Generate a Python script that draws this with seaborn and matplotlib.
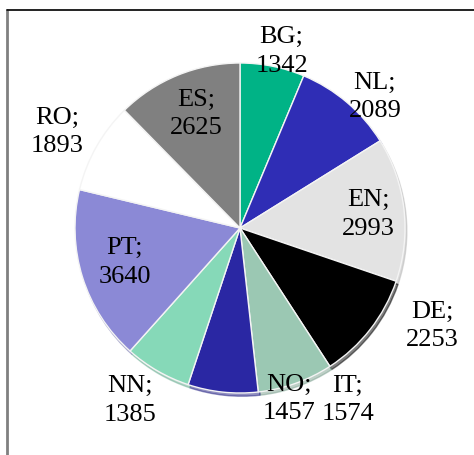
import numpy as np
import matplotlib
matplotlib.use("Agg")
import matplotlib.pyplot as plt
from matplotlib.lines import Line2D
import seaborn as sns

# slice data, clockwise from 12 o'clock
languages = ["BG", "NL", "EN", "DE", "IT", "NO", "NN", "PT", "RO", "ES"]
counts = [1342, 2089, 2993, 2253, 1574, 1457, 1385, 3640, 1893, 2625]
colors = ["#00b386", "#2f2db5", "#e3e3e3", "#000000", "#9bc8b3",
          "#2a27a3", "#86d9b8", "#8b89d6", "#ffffff", "#808080"]

# label placement: distance from centre (in radii) and angle shift (deg)
label_dist = [1.10, 1.14, 0.78, 1.31, 1.23, 1.08, 1.24, 0.73, 1.25, 0.74]
label_shift = [-1.9, -5.4, -0.5, 10.9, 12.4, 22.1, -2.4, -0.7, 1.7, -1.1]

sns.set_theme(style="white")
plt.rcParams["font.family"] = ["Liberation Serif", "DejaVu Serif"]

W, H = 474, 455
fig = plt.figure(figsize=(W / 100, H / 100), dpi=100)
ax = fig.add_axes([0, 0, 1, 1])

cx, cy, rad = 240, 455 - 228, 165
wedges, _ = ax.pie(counts, colors=colors, startangle=90, counterclock=False,
                   radius=1.0, center=(0, 0),
                   wedgeprops=dict(edgecolor="#f4f4f4", linewidth=1.0),
                   shadow=dict(ox=0.008, oy=-0.014, shade=0.2))

for w, lang, n, d, s in zip(wedges, languages, counts, label_dist, label_shift):
    mid = np.deg2rad((w.theta1 + w.theta2) / 2 + s)
    ax.text(d * np.cos(mid), d * np.sin(mid), f"{lang};\n{n}",
            ha="center", va="center", fontsize=19, color="black",
            linespacing=1.38)

ax.set_xlim(-cx / rad, (W - cx) / rad)
ax.set_ylim(-cy / rad, (H - cy) / rad)
ax.set_aspect("auto")
ax.axis("off")

# frame lines around the chart area
fig.add_artist(Line2D([7 / W, 7 / W], [0, 1 - 10 / H], color="#808080",
                      linewidth=2.0, transform=fig.transFigure))
fig.add_artist(Line2D([7 / W, 1], [1 - 10 / H, 1 - 10 / H], color="#111111",
                      linewidth=1.3, transform=fig.transFigure))

fig.savefig("out.png", dpi=100)
plt.close(fig)
